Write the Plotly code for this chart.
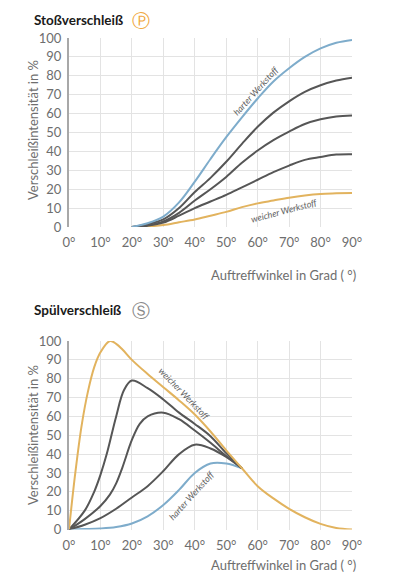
import plotly.graph_objects as go

# --- Stoßverschleiß (top chart) ---
stoss_angle = [20, 25, 30, 35, 40, 45, 50, 55, 60, 65, 70, 75, 80, 85, 90]
stoss_hart = [0, 2, 5.5, 13, 24, 36, 47.5, 58, 68, 77, 84, 90, 94.5, 97.5, 99]
stoss_mid1 = [0, 1.5, 4, 10, 18.5, 26, 34.5, 44, 53, 60.5, 66.5, 71.5, 75, 77.5, 79]
stoss_mid2 = [0, 1, 3, 7.5, 14, 20, 26.5, 34, 40.5, 46, 50.5, 54.5, 57, 58.5, 59]
stoss_mid3 = [0, 0.7, 2.3, 6, 10, 13.5, 17, 21, 25, 29, 32.5, 35.5, 37, 38.3, 38.5]
stoss_weich = [0, 0.3, 1, 2.5, 4, 6, 8, 10.5, 12.5, 14, 15.5, 16.7, 17.5, 17.8, 18]

# --- Spülverschleiß (bottom chart) ---
weich_angle = [0, 2, 4, 6, 8, 10, 13, 15, 17, 20, 25, 30, 35, 40, 45, 50, 55, 60, 65, 70, 75, 80, 85, 90]
spuel_weich = [0, 30, 55, 73, 86, 94, 100, 98.5, 95.5, 90, 82.5, 75.5, 68.5, 61, 52, 42, 32.5, 23, 16.5, 11, 6.5, 3, 0.8, 0]
mid1_angle = [0, 5, 8, 10, 12, 15, 17.5, 20, 25, 30, 35, 40, 45, 50, 55]
spuel_mid1 = [0, 10, 20, 29, 40, 60, 74, 79, 75, 69, 62, 56, 49.5, 40.5, 32.5]
mid2_angle = [0, 5, 10, 13, 15, 17, 20, 22.5, 25, 30, 35, 40, 45, 50, 55]
spuel_mid2 = [0, 5.5, 12.5, 18.5, 24.5, 33, 47.5, 56, 60, 62, 58.5, 52.5, 46, 39, 32.5]
rest_angle = [0, 5, 10, 15, 20, 25, 30, 35, 40, 45, 50, 55]
spuel_mid3 = [0, 2.5, 6, 11, 17, 23, 31, 40, 45, 43, 38.5, 32.5]
spuel_hart = [0, 0.2, 0.5, 1.3, 3.2, 7, 13, 21, 30, 35, 35, 32.5]

x_ticks = list(range(0, 91, 10))
x_ticktext = [f"{t}°" for t in x_ticks]
y_ticks = list(range(0, 101, 10))

BLUE = "#7eaccb"
GREY = "#565656"
GOLD = "#e2b35e"
LABEL = "#6e6e6e"
FONT = "Lato"
W, H = 400, 576
OFF = 8  # the page body adds an 8px margin, so place everything 8px up/left


def px_x(v):
    return (v - OFF) / W


def px_y(v):
    return 1 - (v - OFF) / H


fig = go.Figure()

def line(x, y, color, xa, ya):
    fig.add_trace(go.Scatter(x=x, y=y, mode="lines", xaxis=xa, yaxis=ya,
                             line=dict(color=color, width=2, shape="spline", smoothing=1.0),
                             hoverinfo="skip", showlegend=False))

for ys, c in [(stoss_weich, GOLD), (stoss_mid3, GREY), (stoss_mid2, GREY),
              (stoss_mid1, GREY), (stoss_hart, BLUE)]:
    line(stoss_angle, ys, c, "x", "y")

line(rest_angle, spuel_hart, BLUE, "x2", "y2")
line(rest_angle, spuel_mid3, GREY, "x2", "y2")
line(mid2_angle, spuel_mid2, GREY, "x2", "y2")
line(mid1_angle, spuel_mid1, GREY, "x2", "y2")
line(weich_angle, spuel_weich, GOLD, "x2", "y2")

xaxis_style = dict(range=[0, 90], tickvals=x_ticks, ticktext=x_ticktext, showgrid=True,
                   gridcolor="#e3e3e3", gridwidth=1, zeroline=False, showline=False,
                   ticks="", ticklabelstandoff=6, automargin=False,
                   tickfont=dict(family=FONT, size=13, color=LABEL))
yaxis_style = dict(range=[0, 100], tickvals=y_ticks, showgrid=True, gridcolor="#e3e3e3",
                   gridwidth=1, zeroline=False, showline=True, linecolor="#a8a8a8",
                   linewidth=2, ticks="", ticklabelstandoff=3, automargin=False,
                   tickfont=dict(family=FONT, size=13, color=LABEL))

fig.update_layout(
    width=W, height=H,
    margin=dict(l=0, r=0, t=0, b=0),
    plot_bgcolor="white", paper_bgcolor="white",
    xaxis=dict(domain=[px_x(69), px_x(352)], anchor="y", **xaxis_style),
    yaxis=dict(domain=[px_y(227), px_y(38)], anchor="x", **yaxis_style),
    xaxis2=dict(domain=[px_x(69), px_x(352)], anchor="y2", **xaxis_style),
    yaxis2=dict(domain=[px_y(529.5), px_y(341)], anchor="x2", **yaxis_style),
)

ann = []
# panel titles
for txt, sym, col, yy in [("Stoßverschleiß", "Ⓟ", "#f0a840", 20),
                          ("Spülverschleiß", "Ⓢ", "#888888", 310)]:
    ann.append(dict(text=f"<b>{txt}</b>", x=px_x(32), y=px_y(yy), xref="paper", yref="paper",
                    xanchor="left", yanchor="middle", showarrow=False,
                    font=dict(family=FONT, size=13.5, color="#1a1a1a")))
    ann.append(dict(text=sym, x=px_x(141), y=px_y(yy), xref="paper", yref="paper",
                    xanchor="center", yanchor="middle", showarrow=False,
                    font=dict(family="DejaVu Sans", size=18, color=col)))
# y axis titles
for yy in (130, 435):
    ann.append(dict(text="Verschleißintensität in %", x=px_x(33), y=px_y(yy),
                    xref="paper", yref="paper", xanchor="center", yanchor="middle",
                    textangle=-90, showarrow=False,
                    font=dict(family=FONT, size=13, color=LABEL)))
# x axis titles
for yy in (275, 565):
    ann.append(dict(text="Auftreffwinkel in Grad ( °)", x=px_x(358), y=px_y(yy),
                    xref="paper", yref="paper", xanchor="right", yanchor="middle",
                    showarrow=False, font=dict(family=FONT, size=13, color=LABEL)))
# curve labels
lab_font = dict(family=FONT, size=9, color="#606060", style="italic")
ann.append(dict(text="harter Werkstoff", x=59.5, y=72, xref="x", yref="y", textangle=-48,
                showarrow=False, font=lab_font))
ann.append(dict(text="weicher Werkstoff", x=68.5, y=8.6, xref="x", yref="y", textangle=-15,
                showarrow=False, font=lab_font))
ann.append(dict(text="weicher Werkstoff", x=36.6, y=72, xref="x2", yref="y2", textangle=46,
                showarrow=False, font=lab_font))
ann.append(dict(text="harter Werkstoff", x=38.8, y=18.3, xref="x2", yref="y2", textangle=-48,
                showarrow=False, font=lab_font))
fig.update_layout(annotations=ann)

fig.write_html("out.html")
